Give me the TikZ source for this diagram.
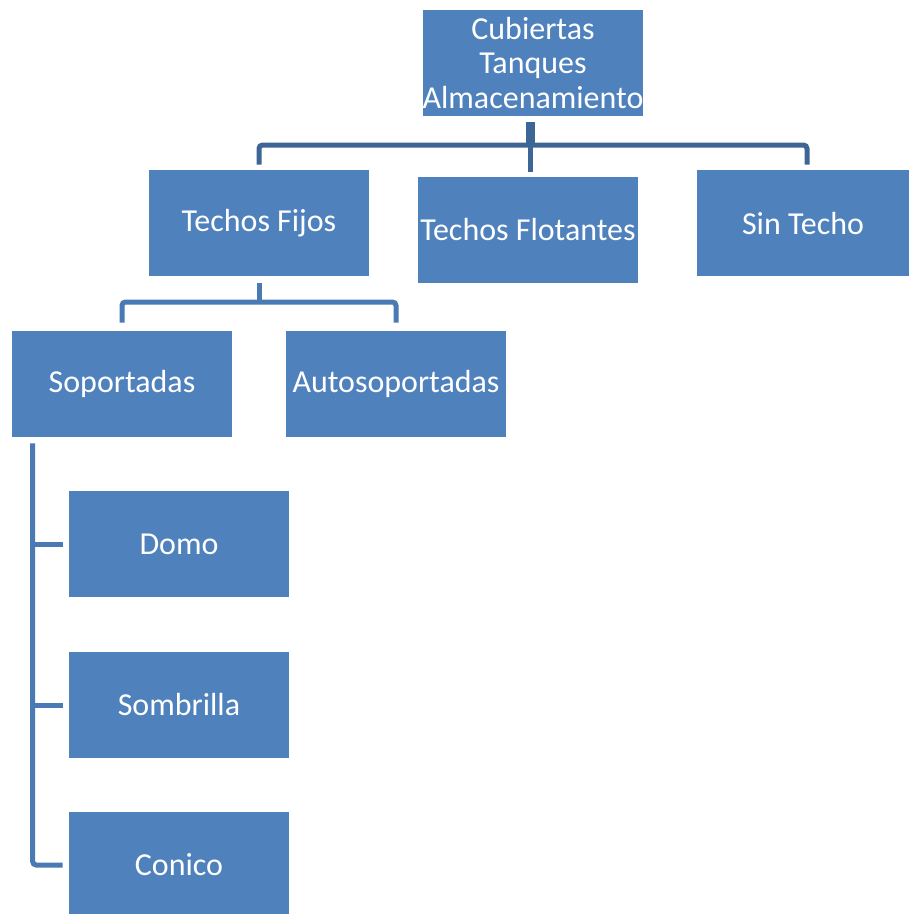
\documentclass[tikz,border=0pt]{standalone}
\usepackage{fontspec}
\setmainfont{Carlito}
\usetikzlibrary{positioning,calc}
\definecolor{cajazul}{HTML}{4F81BD}
\definecolor{lineazul}{HTML}{4A7AB4}
\definecolor{raizazul}{HTML}{3D6696}

\begin{document}
\begin{tikzpicture}[x=0.02cm, y=-0.02cm,
  caja/.style={fill=cajazul, text=white, minimum width=4.4cm, minimum height=2.12cm,
    inner sep=0pt, align=center, font=\fontsize{18.2}{19.6}\selectfont},
  enlace/.style={draw=lineazul, line width=0.1cm, rounded corners=2pt}]
  \useasboundingbox (0,0) rectangle (910,914);

  % cajas
  \node[caja] (raiz) at (533,63) {Cubiertas\\Tanques\\Almacenamiento};
  \node[caja] (fijos) at (259,223) {Techos Fijos};
  \node[caja] (flotantes) at (528,230) {Techos Flotantes};
  \node[caja, minimum width=4.26cm] (sintecho) at (803,223) {Sin Techo};
  \node[caja] (soportadas) at (122,384) {Soportadas};
  \node[caja] (autosoportadas) at (396,384) {Autosoportadas};
  \node[caja] (domo) at (179,544) {Domo};
  \node[caja] (sombrilla) at (179,705) {Sombrilla};
  \node[caja] (conico) at (179,865) {Conico};

  % enlaces del primer nivel
  \coordinate (busraiz) at (530,145);
  \draw[enlace, draw=raizazul, line width=0.18cm, shorten <=1.2mm] (raiz.south -| busraiz) -- (busraiz);
  \draw[enlace, draw=raizazul, shorten <=1mm, shorten >=1mm] (fijos.north) |- (busraiz) -| ([xshift=0.08cm]sintecho.north);
  \draw[enlace, draw=raizazul, shorten >=1mm] (busraiz) -- (busraiz |- flotantes.north);

  % enlaces de techos fijos
  \coordinate (busfijos) at (259,302);
  \draw[enlace, shorten <=1.4mm] (fijos.south) -- (busfijos);
  \draw[enlace, shorten <=1.6mm, shorten >=1.6mm] (soportadas.north) |- (busfijos) -| (autosoportadas.north);

  % enlaces de soportadas
  \coordinate (lado) at ($(soportadas.south west)+(21,6)$);
  \draw[enlace, shorten >=1.2mm] (lado) |- (conico.west);
  \draw[enlace, shorten >=1.2mm] (lado |- domo.west) -- (domo.west);
  \draw[enlace, shorten >=1.2mm] (lado |- sombrilla.west) -- (sombrilla.west);
\end{tikzpicture}
\end{document}
